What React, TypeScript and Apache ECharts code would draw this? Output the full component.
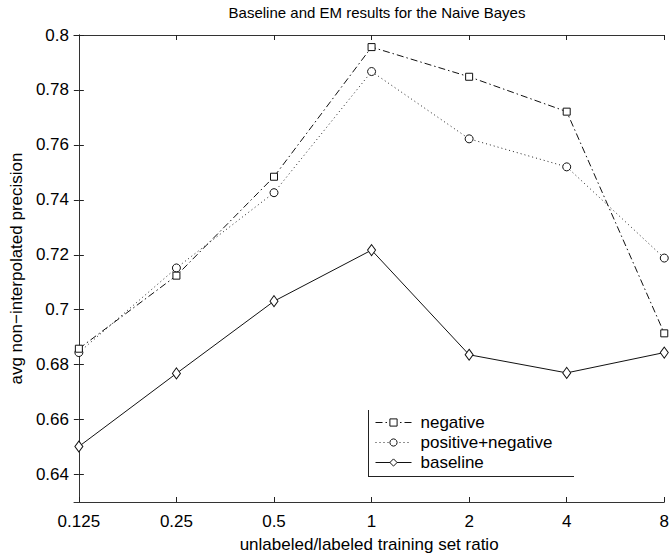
import React, { useEffect, useRef } from "react";
import * as echarts from "echarts";

const categories = ["0.125", "0.25", "0.5", "1", "2", "4", "8"];
const negative = [0.6858, 0.7124, 0.7484, 0.7956, 0.7848, 0.7721, 0.6914];
const positiveNegative = [0.6844, 0.7152, 0.7426, 0.7867, 0.7622, 0.752, 0.7188];
const baseline = [0.6502, 0.6768, 0.7031, 0.7217, 0.6836, 0.677, 0.6844];
const yTicks = [0.64, 0.66, 0.68, 0.7, 0.72, 0.74, 0.76, 0.78, 0.8];
const xTicks = [0, 1, 2, 3, 4, 5, 6];

const FONT = "Liberation Sans, Arial, Helvetica, sans-serif";

export default function App() {
  const ref = useRef<HTMLDivElement>(null);
  useEffect(() => {
    if (!ref.current) return;
    const chart = echarts.init(ref.current, undefined, { renderer: "svg" });
    const pts = (arr: number[]) => arr.map((v, i) => [i, v]);
    const tickStyle = { show: true, inside: true, length: 5, lineStyle: { color: "#222", width: 1 } };
    const axisLineStyle = { show: true, lineStyle: { color: "#333", width: 1 } };
    const xMin = -0.05;
    const xMax = 6;
    const yMin = 0.63;
    const yMax = 0.8;
    chart.setOption({
      animation: false,
      backgroundColor: "#fff",
      textStyle: { fontFamily: FONT },
      title: {
        text: "Baseline and EM results for the Naive Bayes",
        left: 372,
        top: 0,
        textAlign: "center",
        textStyle: { fontFamily: FONT, fontSize: 15, fontWeight: "normal", color: "#000" },
      },
      grid: { left: 73, right: 5, top: 35, bottom: 50, containLabel: false },
      xAxis: [
        {
          type: "value",
          min: xMin,
          max: xMax,
          position: "bottom",
          axisLine: axisLineStyle,
          splitLine: { show: false },
          axisTick: { ...tickStyle, customValues: xTicks },
          axisLabel: {
            customValues: xTicks,
            margin: 11,
            fontSize: 17,
            color: "#000",
            fontFamily: FONT,
            formatter: (v: number) => categories[Math.round(v)] ?? "",
          },
          name: "unlabeled/labeled training set ratio",
          nameLocation: "middle",
          nameGap: 34,
          nameTextStyle: { fontSize: 17, color: "#000", fontFamily: FONT },
        },
        {
          type: "value",
          min: xMin,
          max: xMax,
          position: "top",
          axisLine: axisLineStyle,
          splitLine: { show: false },
          axisTick: { ...tickStyle, customValues: xTicks },
          axisLabel: { show: false },
        },
      ],
      yAxis: [
        {
          type: "value",
          min: yMin,
          max: yMax,
          position: "left",
          axisLine: axisLineStyle,
          splitLine: { show: false },
          axisTick: { ...tickStyle, customValues: yTicks },
          axisLabel: {
            customValues: yTicks,
            margin: 5,
            fontSize: 17,
            color: "#000",
            fontFamily: FONT,
            formatter: (v: number) => String(parseFloat(v.toFixed(2))),
          },
          name: "avg non\u2212interpolated precision",
          nameLocation: "middle",
          nameRotate: 90,
          nameGap: 46,
          nameTextStyle: { fontSize: 17, color: "#000", fontFamily: FONT },
        },
        {
          type: "value",
          min: yMin,
          max: yMax,
          position: "right",
          axisLine: axisLineStyle,
          splitLine: { show: false },
          axisTick: { ...tickStyle, customValues: yTicks },
          axisLabel: { show: false },
        },
      ],
      legend: {
        orient: "vertical",
        left: 375,
        top: 414,
        itemWidth: 36,
        itemHeight: 9,
        itemGap: 3,
        padding: 0,
        itemStyle: { borderWidth: 1 },
        lineStyle: { width: 1 },
        textStyle: { fontSize: 17, color: "#000", fontFamily: FONT, padding: [0, 0, 0, 4] },
        data: ["negative", "positive+negative", "baseline"],
      },
      graphic: [
        { type: "line", shape: { x1: 368.5, y1: 410, x2: 368.5, y2: 477 }, style: { stroke: "#222", lineWidth: 1 } },
        { type: "line", shape: { x1: 368, y1: 476.5, x2: 574, y2: 476.5 }, style: { stroke: "#222", lineWidth: 1 } },
      ],
      series: [
        {
          name: "negative",
          type: "line",
          data: pts(negative),
          symbol: "rect",
          symbolSize: 7,
          lineStyle: { color: "#111", width: 1, type: [7, 3, 1.5, 3] },
          itemStyle: { color: "#fff", borderColor: "#111", borderWidth: 1 },
          z: 3,
        },
        {
          name: "positive+negative",
          type: "line",
          data: pts(positiveNegative),
          symbol: "circle",
          symbolSize: 8,
          lineStyle: { color: "#222", width: 1, type: [1, 3] },
          itemStyle: { color: "#fff", borderColor: "#111", borderWidth: 1 },
          z: 2,
        },
        {
          name: "baseline",
          type: "line",
          data: pts(baseline),
          symbol: "diamond",
          symbolSize: [8, 11],
          lineStyle: { color: "#111", width: 1, type: "solid" },
          itemStyle: { color: "#fff", borderColor: "#111", borderWidth: 1 },
          z: 4,
        },
      ],
    });
    return () => chart.dispose();
  }, []);
  return (
    <div
      ref={ref}
      style={{ position: "fixed", left: 0, top: 0, width: 672, height: 558 }}
    />
  );
}
